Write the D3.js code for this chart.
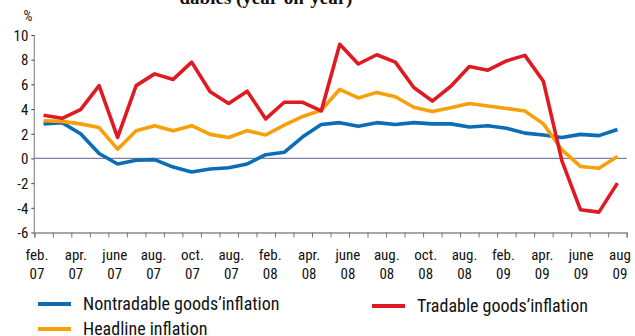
<!DOCTYPE html>
<html><head><meta charset="utf-8">
<script src="https://cdn.jsdelivr.net/npm/d3@7"></script>
<style>body{margin:0;background:#fff}svg{display:block}</style>
</head><body>
<script>
const months = ["2007-02","2007-03","2007-04","2007-05","2007-06","2007-07","2007-08","2007-09","2007-10","2007-11","2007-12",
"2008-01","2008-02","2008-03","2008-04","2008-05","2008-06","2008-07","2008-08","2008-09","2008-10","2008-11","2008-12",
"2009-01","2009-02","2009-03","2009-04","2009-05","2009-06","2009-07","2009-08","2009-09"];
const nontradable = [2.8,2.9,2.0,0.4,-0.45,-0.15,-0.1,-0.7,-1.1,-0.85,-0.75,-0.45,0.3,0.5,1.75,2.75,2.9,2.6,2.9,2.75,2.9,2.8,2.8,2.55,2.65,2.45,2.05,1.9,1.7,1.95,1.85,2.35];
const tradable = [3.5,3.25,3.95,5.9,1.7,5.9,6.85,6.4,7.8,5.4,4.45,5.45,3.2,4.55,4.55,3.85,9.25,7.65,8.4,7.8,5.75,4.65,5.85,7.45,7.15,7.9,8.35,6.25,-0.2,-4.15,-4.35,-2.0];
const headline = [3.05,3.0,2.8,2.5,0.75,2.25,2.65,2.25,2.65,1.95,1.7,2.25,1.9,2.7,3.4,3.9,5.6,4.9,5.35,5.0,4.15,3.8,4.1,4.45,4.25,4.05,3.85,2.8,0.7,-0.65,-0.8,0.15];
const xLabels = [["feb.","07"],["apr.","07"],["june","07"],["aug.","07"],["oct.","07"],["aug.","07"],["feb.","08"],["apr.","08"],
["june","08"],["aug.","08"],["oct.","08"],["aug.","08"],["feb.","09"],["apr.","09"],["june","09"],["aug","09"]];
const yTicks = [-6,-4,-2,0,2,4,6,8,10];
const series = [
  {name:"Nontradable goods\u2019inflation", values:nontradable, color:"#0a6db5"},
  {name:"Headline inflation", values:headline, color:"#f7a008"},
  {name:"Tradable goods\u2019inflation", values:tradable, color:"#e01a22"}
];

const W=635,H=336;
const svg=d3.select("body").append("svg").attr("width",W).attr("height",H);
const font='"Liberation Sans Narrow","Roboto Condensed","DejaVu Sans Condensed",sans-serif';

const x=d3.scaleLinear().domain([0,months.length]).range([34.3,626.7]);
const y=d3.scaleLinear().domain([-6,10]).range([232.5,35]);

// title (cut off at top)
svg.append("text").attr("x",266).attr("y",4).attr("text-anchor","middle")
  .attr("font-family",'"Liberation Serif","DejaVu Serif",serif').attr("font-weight","bold").attr("font-size",19)
  .attr("fill","#111").text("dables (year-on-year)");

svg.append("text").attr("x",28).attr("y",21).attr("text-anchor","middle").attr("font-family",font)
  .attr("font-size",14).attr("fill","#222").text("%");

// y axis
const ya=svg.append("g").attr("transform","translate(34.3,0)")
  .call(d3.axisLeft(y).tickValues(yTicks).tickSize(3).tickPadding(3).tickFormat(d=>d));
ya.select(".domain").attr("stroke","#9a9a9a").attr("stroke-width",1.3).attr("d","M0,35V232.5");
ya.selectAll(".tick line").attr("stroke","#3a3f7a");
ya.selectAll(".tick text").attr("font-family",font).attr("font-size",15).attr("fill","#111").attr("dy","0.35em");

// zero line
svg.append("line").attr("x1",x(0)).attr("x2",x(months.length)).attr("y1",y(0)).attr("y2",y(0))
  .attr("stroke","#7d80a6").attr("stroke-width",1.2);

// x axis
const xa=svg.append("g").attr("transform",`translate(0,${y(-6)})`)
  .call(d3.axisBottom(x).tickValues(d3.range(months.length+1)).tickSize(5).tickFormat(""));
xa.select(".domain").attr("stroke","#8a8a8a").attr("stroke-width",1.3);
xa.selectAll(".tick line").attr("stroke","#777");

const xl=d3.scalePoint().domain(d3.range(xLabels.length)).range([37,620]);
const lg=svg.append("g").attr("font-family",font).attr("font-size",15).attr("fill","#111").attr("text-anchor","middle");
xLabels.forEach((l,i)=>{
  lg.append("text").attr("x",xl(i)).attr("y",260).text(l[0]);
  lg.append("text").attr("x",xl(i)).attr("y",279).text(l[1]);
});

// lines
const line=d3.line().x((d,i)=>x(i+0.5)).y(d=>y(d)).curve(d3.curveLinear);
const drawOrder=[series[0],series[1],series[2]];
drawOrder.forEach(s=>{
  svg.append("path").datum(s.values).attr("d",line).attr("fill","none")
    .attr("stroke",s.color).attr("stroke-width",3.6).attr("stroke-linejoin","round");
});

// legend
const leg=[{s:series[0],x:38,y:304},{s:series[1],x:38,y:329},{s:series[2],x:372,y:306}];
leg.forEach(l=>{
  svg.append("line").attr("x1",l.x).attr("x2",l.x+33).attr("y1",l.y).attr("y2",l.y)
    .attr("stroke",l.s.color).attr("stroke-width",4);
  svg.append("text").attr("x",l.x+45).attr("y",l.y+6).attr("font-family",font).attr("font-size",18)
    .attr("fill","#111").text(l.s.name);
});
</script>
</body></html>
